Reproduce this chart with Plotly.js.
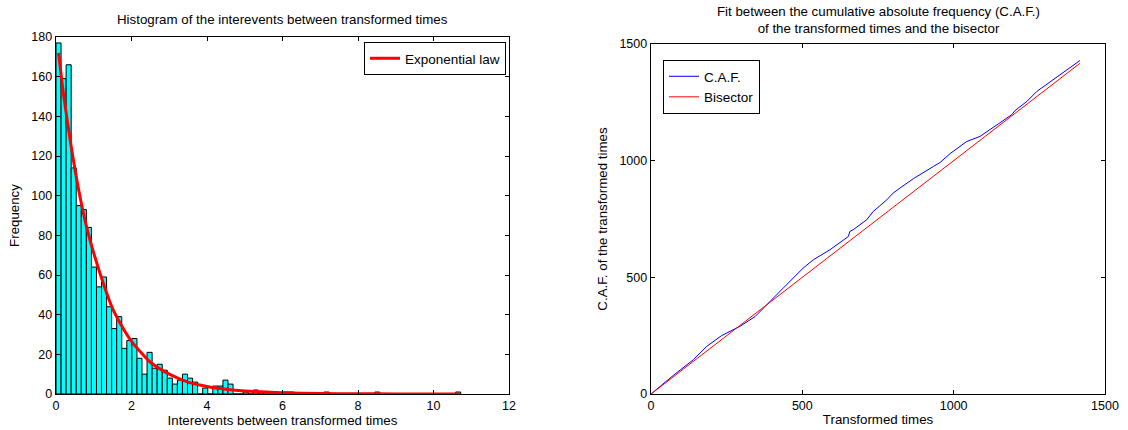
<!DOCTYPE html>
<html>
<head>
<meta charset="utf-8">
<script src="https://cdn.plot.ly/plotly-3.0.1.min.js"></script>
<style>html,body{margin:0;padding:0;background:#fff;}#chart{width:1128px;height:430px;}</style>
</head>
<body>
<div id="chart"></div>
<script>
// ---- Left panel: histogram of interevents (80 bins) ----
const binWidth = 0.134;
const histCounts = [177,159,166,114,95,93,84,64,54,59,
                    44,33,39,23,27,28,18,10,21,13,
                    15,12,8,5,7,10,8,6,0,3,
                    0,4,4,7,5,0,0,1,0,2,
                    0,1,0,1,0,1,1,0,0,0,
                    0,0,0,1,0,0,0,0,0,0,
                    0,0,0,1,0,0,0,0,0,0,
                    0,0,0,0,0,0,0,0,0,1];
// Exponential law curve
const expX = [0.067,0.2,0.4,0.6,0.8,1.0,1.25,1.5,1.75,2.0,2.5,3.0,3.5,4.0,4.5,5.0,6.0,7.0,8.0,9.0,10.0,10.68];
const expY = [172,151,125,103,85,71,56,43,34,26.5,16,10,6,3.8,2.4,1.5,0.6,0.2,0.1,0.05,0.02,0.01];

// ---- Right panel: C.A.F. vs bisector ----
const cafX = [0,74,140,184,233,294,344,404,437,503,536,591,652,657,668,713,734,779,800,823,867,933,955,988,1043,1087,1142,1192,1203,1242,1275,1351,1417];
const cafY = [0,80,147,204,250,290,332,408,454,540,575,618,675,697,704,747,782,832,861,883,923,975,992,1030,1082,1104,1154,1197,1215,1254,1297,1368,1429];
const bisectorX = [0,1418];
const bisectorY = [0,1418];

const binCenters = histCounts.map((_, i) => (i + 0.5) * binWidth);

const FONT = 'Liberation Sans, Arial, Helvetica, sans-serif';
const TICK = 12.5, LAB = 13.3, LEG = 13.5;

const traces = [
  {type:'bar', x:binCenters, y:histCounts, width:binWidth, xaxis:'x', yaxis:'y',
   marker:{color:'#00FFFF', line:{color:'#000', width:1}}, showlegend:false, hoverinfo:'x+y'},
  {type:'scatter', mode:'lines', x:expX, y:expY, xaxis:'x', yaxis:'y', name:'Exponential law',
   line:{color:'#FF0000', width:3, shape:'spline', smoothing:0.6}, legend:'legend'},
  {type:'scatter', mode:'lines', x:cafX, y:cafY, xaxis:'x2', yaxis:'y2', name:'C.A.F.',
   line:{color:'#0000FF', width:1}, legend:'legend2'},
  {type:'scatter', mode:'lines', x:bisectorX, y:bisectorY, xaxis:'x2', yaxis:'y2', name:'Bisector',
   line:{color:'#FF0000', width:1}, legend:'legend2'}
];

const axBase = {showgrid:false, zeroline:false, showline:true, linecolor:'#000', linewidth:1.3,
  mirror:'ticks', ticks:'inside', ticklen:4, tickcolor:'#000', tickwidth:1,
  tickfont:{family:FONT, size:TICK, color:'#000'}, automargin:false, fixedrange:true};
const tf = {family:FONT, size:LAB, color:'#000'};

const layout = {
  width:1128, height:430,
  margin:{l:0, r:0, t:0, b:0},
  paper_bgcolor:'#fff', plot_bgcolor:'#fff',
  font:{family:FONT, size:LAB, color:'#000'},
  bargap:0,
  xaxis: Object.assign({}, axBase, {domain:[56/1128, 509/1128], range:[0,12], tickvals:[0,2,4,6,8,10,12],
    title:{text:'Interevents between transformed times', font:tf, standoff:2}, anchor:'y'}),
  yaxis: Object.assign({}, axBase, {domain:[36/430, 393/430], range:[0,180], tickvals:[0,20,40,60,80,100,120,140,160,180],
    title:{text:'Frequency', font:tf, standoff:8}, anchor:'x'}),
  xaxis2: Object.assign({}, axBase, {domain:[651/1128, 1105/1128], range:[0,1500], tickvals:[0,500,1000,1500],
    title:{text:'Transformed times', font:tf, standoff:2}, anchor:'y2'}),
  yaxis2: Object.assign({}, axBase, {domain:[36/430, 386/430], range:[0,1500], tickvals:[0,500,1000,1500],
    title:{text:'C.A.F. of the transformed times', font:tf, standoff:8}, anchor:'x2'}),
  legend:{x:506/1128, y:(430-42)/430, xanchor:'right', yanchor:'top', bgcolor:'#fff',
    bordercolor:'#000', borderwidth:1, font:{family:FONT,size:LEG,color:'#000'}, tracegroupgap:0},
  legend2:{x:663/1128, y:(430-60)/430, xanchor:'left', yanchor:'top', bgcolor:'#fff',
    bordercolor:'#000', borderwidth:1, font:{family:FONT,size:LEG,color:'#000'}, tracegroupgap:0},
  annotations:[
    {text:'Histogram of the interevents between transformed times', xref:'paper', yref:'paper',
     x:282/1128, y:(430-19)/430, xanchor:'center', yanchor:'middle', showarrow:false,
     font:tf},
    {text:'Fit between the cumulative absolute frequency (C.A.F.)<br>of the transformed times and the bisector',
     xref:'paper', yref:'paper', x:878/1128, y:(430-20)/430, xanchor:'center', yanchor:'middle', showarrow:false,
     font:tf}
  ]
};

Plotly.newPlot('chart', traces, layout, {displayModeBar:false, staticPlot:true});
</script>
</body>
</html>
